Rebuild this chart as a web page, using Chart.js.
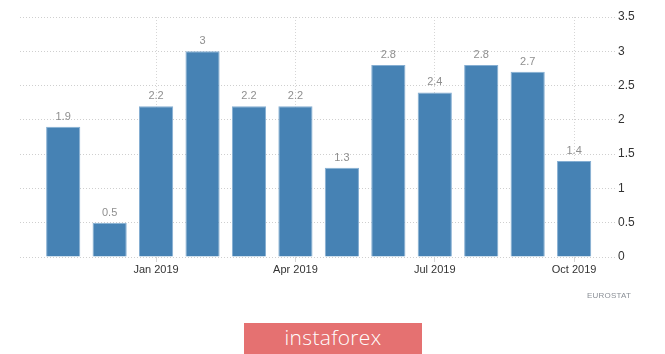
<!DOCTYPE html>
<html>
<head>
<meta charset="utf-8">
<script src="https://cdn.jsdelivr.net/npm/chart.js@4/dist/chart.umd.min.js"></script>
<style>
  html, body { margin: 0; padding: 0; background: #fff; }
  #wrap { position: relative; width: 665px; height: 354px; overflow: hidden; }
  #c { position: absolute; left: 0; top: 0; }
  #src { position: absolute; left: 587px; top: 291px; font: 8px "Liberation Sans", Arial, sans-serif; color: #8a8f96; letter-spacing: 0.2px; }
  #logo { position: absolute; left: 244px; top: 323px; width: 178px; height: 31px; background: #e57171; color: #fff;
          font: 300 21px "Open Sans", sans-serif; text-align: center; line-height: 29px; letter-spacing: 0.3px; }
</style>
</head>
<body>
<div id="wrap">
  <canvas id="c" width="665" height="354"></canvas>
  <div id="src">EUROSTAT</div>
  <div id="logo">instaforex</div>
</div>
<script>
// Months Nov 2018 .. Oct 2019
const months = ["Nov 2018","Dec 2018","Jan 2019","Feb 2019","Mar 2019","Apr 2019","May 2019","Jun 2019","Jul 2019","Aug 2019","Sep 2019","Oct 2019"];
const values = [1.9, 0.5, 2.2, 3, 2.2, 2.2, 1.3, 2.8, 2.4, 2.8, 2.7, 1.4];
const xTickIndexes = [2, 5, 8, 11];
const xTickLabels = ["Jan 2019", "Apr 2019", "Jul 2019", "Oct 2019"];
const yTicks = [0, 0.5, 1, 1.5, 2, 2.5, 3, 3.5];

const points = values.map((v, i) => ({ x: i, y: v }));

const valueLabels = {
  id: 'valueLabels',
  afterDatasetsDraw(chart) {
    const ctx = chart.ctx;
    const meta = chart.getDatasetMeta(0);
    ctx.save();
    ctx.font = '11px "Liberation Sans", Arial, sans-serif';
    ctx.fillStyle = '#8f8f8f';
    ctx.textAlign = 'center';
    ctx.textBaseline = 'middle';
    meta.data.forEach((bar, i) => {
      ctx.fillText(String(values[i]), bar.x, bar.y - 10);
    });
    ctx.restore();
  }
};

new Chart(document.getElementById('c'), {
  type: 'bar',
  data: {
    datasets: [{
      data: points,
      backgroundColor: '#4682b4',
      borderColor: 'rgba(120,165,205,0.9)',
      borderWidth: 1,
      barPercentage: 0.92,
      categoryPercentage: 0.8
    }]
  },
  options: {
    responsive: false,
    animation: false,
    events: [],
    layout: { padding: { left: 20, top: 17, right: 0, bottom: 0 } },
    plugins: { legend: { display: false }, tooltip: { enabled: false } },
    scales: {
      x: {
        type: 'linear',
        offset: false,
        min: -0.93,
        max: 11.88,
        afterBuildTicks(scale) { scale.ticks = xTickIndexes.map(v => ({ value: v })); },
        afterFit(scale) { scale.height = 97; },
        ticks: {
          autoSkip: false,
          maxRotation: 0,
          padding: 1,
          color: '#333',
          font: { family: '"Liberation Sans", Arial, sans-serif', size: 11 },
          callback(v) { const k = xTickIndexes.indexOf(v); return k >= 0 ? xTickLabels[k] : ''; }
        },
        grid: { offset: false, color: '#d6d6d6', lineWidth: 1, drawTicks: true, tickLength: 5, tickColor: '#d6d6d6' },
        border: { display: false, dash: [1, 2] }
      },
      y: {
        position: 'right',
        min: 0,
        max: 3.5,
        afterBuildTicks(scale) { scale.ticks = yTicks.map(v => ({ value: v })); },
        afterFit(scale) { scale.width = 50; },
        ticks: {
          padding: 3,
          color: '#333',
          font: { family: '"Liberation Sans", Arial, sans-serif', size: 12 },
          callback(v) { return String(v); }
        },
        grid: { color: '#cfcfcf', lineWidth: 1, drawTicks: false },
        border: { display: false, dash: [1, 2] }
      }
    }
  },
  plugins: [valueLabels]
});
</script>
</body>
</html>
